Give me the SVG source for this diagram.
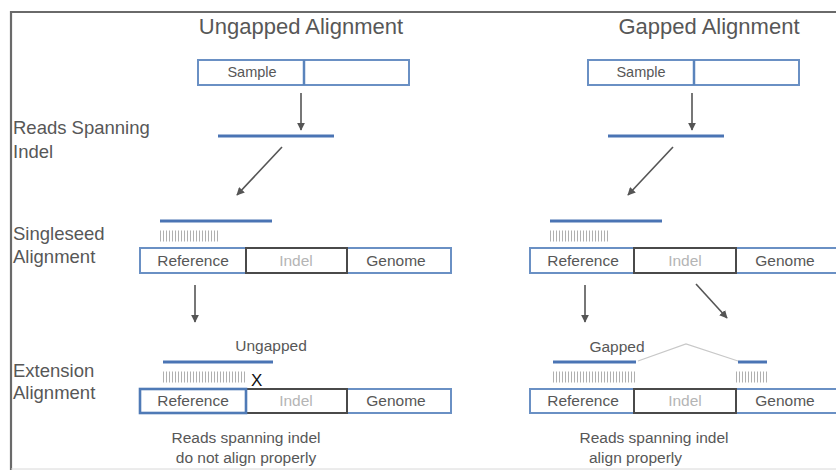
<svg xmlns="http://www.w3.org/2000/svg" width="836" height="470" viewBox="0 0 836 470">
<defs>
<style>
text{font-family:"Liberation Sans",Arial,sans-serif;fill:#575757}
.title{font-size:22px;text-anchor:middle}
.lbl{font-size:18.5px}
.box{font-size:15.5px;text-anchor:middle}
.samp{font-size:14.5px;text-anchor:middle}
.small{font-size:15.5px;text-anchor:middle}
.bb{fill:#fff;stroke:#6a90c4;stroke-width:2}
.ib{fill:#fff;stroke:#4a4a4a;stroke-width:2}
.read{stroke:#4a74b4;stroke-width:3}
.tick{stroke:#b0b0b0;stroke-width:11;stroke-dasharray:1 2}
.arr{stroke:#555;stroke-width:1.6;fill:none;marker-end:url(#ah)}
.indel{fill:#b5b5b5}
</style>
<marker id="ah" viewBox="0 0 10 10" refX="9" refY="5" markerWidth="5" markerHeight="5" orient="auto">
<path d="M0,0 L10,5 L0,10 z" fill="#555"/>
</marker>
</defs>
<rect width="836" height="470" fill="#fff"/>
<path d="M11,470 V12 H836" fill="none" stroke="#6a6a6a" stroke-width="2.2"/>
<line x1="11" y1="469" x2="836" y2="469" stroke="#d8d8d8" stroke-width="1"/>

<g id="titles">
<text class="title" x="301" y="34">Ungapped Alignment</text>
<text class="title" x="709" y="34">Gapped Alignment</text>
</g>
<g id="labels">
<text class="lbl" x="13" y="134">Reads Spanning</text>
<text class="lbl" x="13" y="158">Indel</text>
<text class="lbl" x="13" y="240">Singleseed</text>
<text class="lbl" x="13" y="263">Alignment</text>
<text class="lbl" x="13" y="377">Extension</text>
<text class="lbl" x="13" y="399">Alignment</text>
</g>

<g id="sample-left">
<rect class="bb" x="198" y="60" width="211" height="25"/>
<line x1="304" y1="60" x2="304" y2="85" stroke="#5a84bc" stroke-width="2.5"/>
<text class="samp" x="252" y="77">Sample</text>
</g>
<g id="sample-right">
<rect class="bb" x="588" y="60" width="211" height="25"/>
<line x1="694" y1="60" x2="694" y2="85" stroke="#5a84bc" stroke-width="2.5"/>
<text class="samp" x="641" y="77">Sample</text>
</g>

<g id="read-left"><line class="read" x1="218" y1="136" x2="334" y2="136"/></g>
<g id="read-right"><line class="read" x1="608" y1="136" x2="724" y2="136"/></g>

<g id="seed-left">
<line class="read" x1="160" y1="221" x2="272" y2="221"/>
<line class="tick" x1="160" y1="236" x2="218" y2="236"/>
</g>
<g id="seed-right">
<line class="read" x1="550" y1="221" x2="662" y2="221"/>
<line class="tick" x1="550" y1="236" x2="608" y2="236"/>
</g>

<g id="genome-seed-left">
<rect class="bb" x="140" y="248" width="311" height="25"/>
<rect class="ib" x="246" y="248" width="101" height="25"/>
<text class="box" x="193" y="266">Reference</text>
<text class="box indel" x="296" y="266">Indel</text>
<text class="box" x="396" y="266">Genome</text>
</g>
<g id="genome-seed-right">
<rect class="bb" x="530" y="248" width="310" height="25"/>
<rect class="ib" x="634" y="248" width="102" height="25"/>
<text class="box" x="583" y="266">Reference</text>
<text class="box indel" x="685" y="266">Indel</text>
<text class="box" x="785" y="266">Genome</text>
</g>

<g id="ext-left">
<text class="small" x="271" y="351">Ungapped</text>
<line class="read" x1="163" y1="362" x2="273" y2="362"/>
<line class="tick" x1="163" y1="377" x2="247" y2="377"/>
<text x="251" y="386" style="font-size:17px;fill:#111">X</text>
</g>
<g id="genome-ext-left">
<rect class="bb" x="140" y="389" width="311" height="24"/>
<rect class="ib" x="246" y="389" width="101" height="24"/>
<rect x="140" y="389" width="106" height="24" fill="none" stroke="#4f7ab6" stroke-width="2.6"/>
<text class="box" x="193" y="406">Reference</text>
<text class="box indel" x="296" y="406">Indel</text>
<text class="box" x="396" y="406">Genome</text>
</g>
<g id="note-left">
<text class="small" x="246" y="443">Reads spanning indel</text>
<text class="small" x="246" y="463">do not align properly</text>
</g>

<g id="ext-right">
<text class="small" x="617" y="352">Gapped</text>
<line class="read" x1="553" y1="362" x2="636" y2="362"/>
<polyline points="638,361 686,344 738,361" fill="none" stroke="#c8c8c8" stroke-width="1.3"/>
<line class="read" x1="738" y1="362" x2="767" y2="362"/>
<line class="tick" x1="553" y1="377" x2="636" y2="377"/>
<line class="tick" x1="736" y1="377" x2="769" y2="377"/>
</g>
<g id="genome-ext-right">
<rect class="bb" x="530" y="389" width="310" height="24"/>
<rect class="ib" x="634" y="389" width="102" height="24"/>
<text class="box" x="583" y="406">Reference</text>
<text class="box indel" x="685" y="406">Indel</text>
<text class="box" x="785" y="406">Genome</text>
</g>
<g id="note-right">
<text class="small" x="654" y="443">Reads spanning indel</text>
<text class="small" x="589" y="463" style="text-anchor:start">align properly</text>
</g>

<g id="connectors">
<line class="arr" x1="301" y1="93" x2="301" y2="130"/>
<line class="arr" x1="692" y1="93" x2="692" y2="130"/>
<line class="arr" x1="282" y1="147" x2="237" y2="195"/>
<line class="arr" x1="673" y1="147" x2="628" y2="195"/>
<line class="arr" x1="195" y1="285" x2="195" y2="322"/>
<line class="arr" x1="585" y1="285" x2="585" y2="322"/>
<line class="arr" x1="696" y1="284" x2="727" y2="318"/>
</g>
</svg>
